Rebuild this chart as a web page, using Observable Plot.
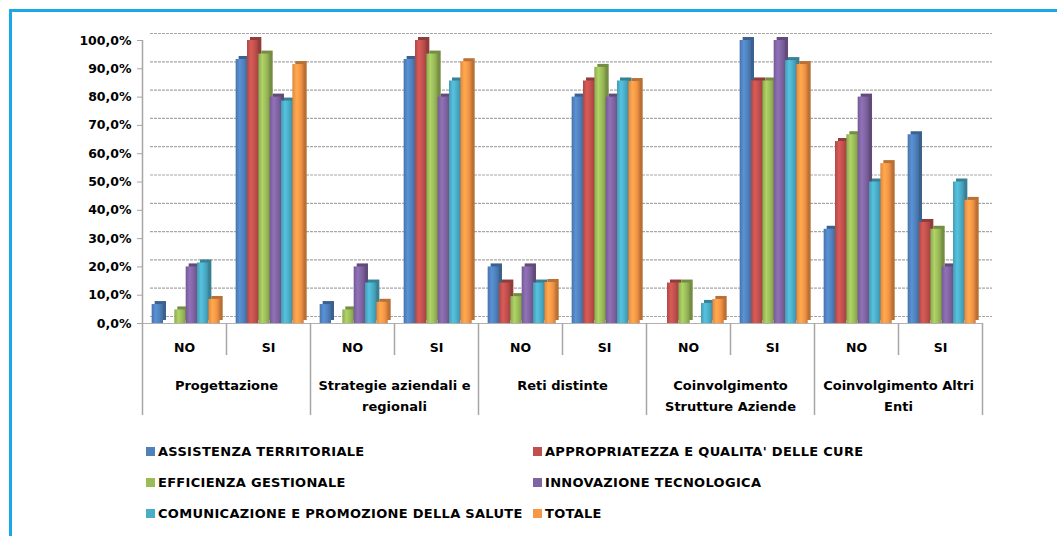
<!DOCTYPE html>
<html>
<head>
<meta charset="utf-8">
<script src="https://cdn.jsdelivr.net/npm/d3@7"></script>
<script src="https://cdn.jsdelivr.net/npm/@observablehq/plot@0.6"></script>
<style>
  body { margin: 0; background: #fff; font-family: "DejaVu Sans", sans-serif; }
  #wrap { position: relative; width: 1057px; height: 536px; overflow: hidden; background: #fff; }
  #frame { position: absolute; left: 9px; top: 9px; width: 1200px; height: 700px;
           border-top: 3px solid #1AA9E6; border-left: 3px solid #1AA9E6; }
  #chart { position: absolute; left: 0; top: 0; }
  #legend { position: absolute; left: 146px; top: 442px; display: grid;
            grid-template-columns: 387px 420px; row-gap: 13px;
            font-size: 13px; letter-spacing: 0.3px; font-weight: bold; color: #000; }
  .item { display: flex; align-items: center; height: 18px; white-space: nowrap; }
  .sw { width: 9px; height: 9px; margin-right: 3px; flex: none; }
</style>
</head>
<body>
<div id="wrap">
  <div id="frame"></div>
  <div id="chart"></div>
  <div id="legend"></div>
</div>
<script>
// ---- data ----
const categories = ["Progettazione", "Strategie aziendali e\nregionali", "Reti distinte",
                    "Coinvolgimento\nStrutture Aziende", "Coinvolgimento Altri\nEnti"];
const answers = ["NO", "SI"];
const seriesNames = ["ASSISTENZA TERRITORIALE", "APPROPRIATEZZA E QUALITA' DELLE CURE",
                     "EFFICIENZA GESTIONALE", "INNOVAZIONE TECNOLOGICA",
                     "COMUNICAZIONE E PROMOZIONE DELLA SALUTE", "TOTALE"];
const seriesColors = ["#4F81BD", "#C0504D", "#9BBB59", "#8064A2", "#4BACC6", "#F79646"];
// values per series, in order: Progettazione NO, SI, Strategie NO, SI, Reti NO, SI,
// Coinv. Strutture NO, SI, Coinv. Altri Enti NO, SI
const assistenza     = [6.7, 93.3, 6.7, 93.3, 20.0, 80.0, 0.0, 100.0, 33.3, 66.7];
const appropriatezza = [0.0, 100.0, 0.0, 100.0, 14.3, 85.7, 14.3, 85.7, 64.3, 35.7];
const efficienza     = [4.8, 95.2, 4.8, 95.2, 9.5, 90.5, 14.3, 85.7, 66.7, 33.3];
const innovazione    = [20.0, 80.0, 20.0, 80.0, 20.0, 80.0, 0.0, 100.0, 80.0, 20.0];
const comunicazione  = [21.4, 78.6, 14.3, 85.7, 14.3, 85.7, 7.1, 92.9, 50.0, 50.0];
const totale         = [8.5, 91.5, 7.5, 92.5, 14.5, 85.5, 8.5, 91.5, 56.5, 43.5];
const seriesValues = [assistenza, appropriatezza, efficienza, innovazione, comunicazione, totale];
const yTicks = [0, 10, 20, 30, 40, 50, 60, 70, 80, 90, 100];
const yTickLabels = ["0,0%", "10,0%", "20,0%", "30,0%", "40,0%", "50,0%", "60,0%", "70,0%", "80,0%", "90,0%", "100,0%"];

// ---- build tables ----
const nGroups = categories.length * answers.length;
const groupLabels = d3.range(nGroups).map(i => ({i, a: answers[i % 2]}));
const catLabels = categories.map((c, k) => ({k, c}));
const barStart = 0.115, barW = 0.135;

const barMarks = [];
seriesValues.forEach((vals, s) => {
  const rows = vals.map((v, i) => ({i, v}));
  const opts = {
    x1: d => d.i + barStart + s * barW,
    x2: d => d.i + barStart + (s + 1) * barW,
    y1: 0, y2: "v"
  };
  barMarks.push(Plot.rectY(rows, {...opts, fill: d3.color(seriesColors[s]).darker(0.8).formatHex(), dx: 3, dy: -3}));
  barMarks.push(Plot.rectY(rows, {...opts, fill: `url(#bargrad${s})`}));
});

const font = "'DejaVu Sans', sans-serif";
const chart = Plot.plot({
  width: 1057, height: 420,
  marginLeft: 142, marginRight: 75, marginTop: 40, marginBottom: 5,
  x: {domain: [0, nGroups], axis: null},
  y: {domain: [-32.5, 100], axis: null},
  style: {fontFamily: font, background: "transparent", color: "#000"},
  marks: [
    Plot.ruleY(yTicks, {y: d => d, stroke: "#a6a6a6", strokeWidth: 1.2, strokeDasharray: "3,1", dy: -7, insetLeft: 8, insetRight: -10}),
    Plot.ruleY([0], {stroke: "#b0b0b0", strokeWidth: 1}),
    Plot.ruleX([0], {y1: 0, y2: 100, stroke: "#a6a6a6", strokeWidth: 1.5}),
    Plot.axisY({ticks: yTicks, tickFormat: d => yTickLabels[yTicks.indexOf(d)], tickSize: 5, tickPadding: 6,
                anchor: "left", stroke: "#a6a6a6", fontSize: 12.5, fontWeight: "bold", label: null}),
    ...barMarks,
    Plot.ruleX(d3.range(0, nGroups + 1, 2), {x: d => d, y1: 0, y2: -32.5, stroke: "#a6a6a6", strokeWidth: 1.5}),
    Plot.ruleX(d3.range(1, nGroups, 2), {x: d => d, y1: 0, y2: -11.3, stroke: "#a6a6a6", strokeWidth: 1.5}),
    Plot.text(groupLabels, {x: d => d.i + 0.5, y: 0, dy: 24, text: "a", fontSize: 12.5, fontWeight: "bold", fill: "#000"}),
    Plot.text(catLabels, {x: d => 2 * d.k + 1, y: 0, dy: 52, lineAnchor: "top", lineHeight: 1.6,
                          text: "c", fontSize: 13, fontWeight: "bold", fill: "#000"})
  ]
});

// gradients for cylinder-like shading
const defs = d3.select(chart).insert("defs", ":first-child");
seriesColors.forEach((c, s) => {
  const base = d3.color(c);
  const g = defs.append("linearGradient").attr("id", `bargrad${s}`)
    .attr("x1", 0).attr("x2", 1).attr("y1", 0).attr("y2", 0);
  g.append("stop").attr("offset", "0%").attr("stop-color", base.darker(0.3).formatHex());
  g.append("stop").attr("offset", "35%").attr("stop-color", base.brighter(0.35).formatHex());
  g.append("stop").attr("offset", "70%").attr("stop-color", base.formatHex());
  g.append("stop").attr("offset", "100%").attr("stop-color", base.darker(0.5).formatHex());
});
document.getElementById("chart").appendChild(chart);

// legend
const legend = d3.select("#legend");
seriesNames.forEach((name, s) => {
  const it = legend.append("div").attr("class", "item");
  it.append("div").attr("class", "sw").style("background", seriesColors[s]);
  it.append("span").text(name);
});
</script>
</body>
</html>
